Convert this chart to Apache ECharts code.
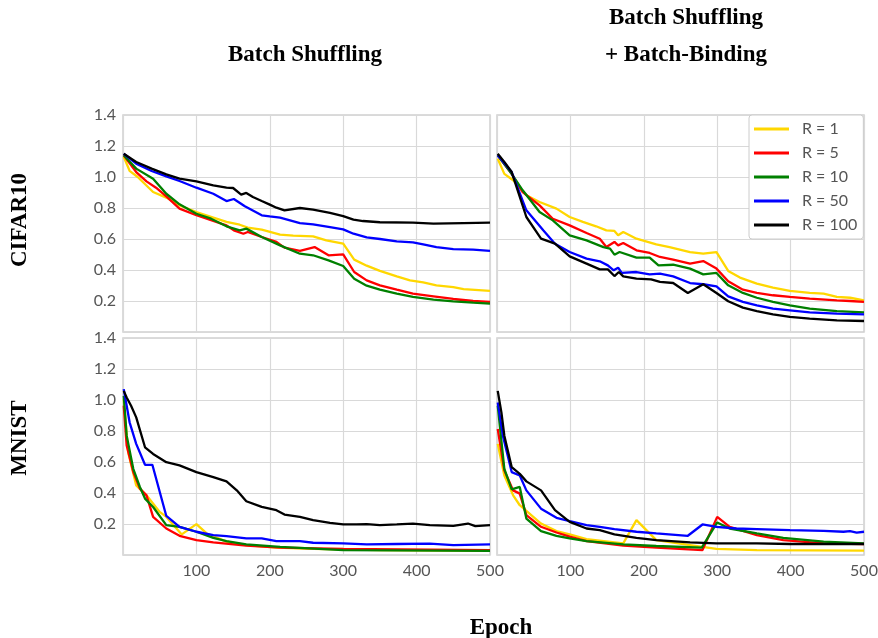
<!DOCTYPE html>
<html>
<head>
<meta charset="utf-8">
<script src="https://cdn.jsdelivr.net/npm/echarts@6/dist/echarts.min.js"></script>
<style>html,body{margin:0;padding:0;background:#fff}#c{width:878px;height:638px}</style>
</head>
<body>
<div id="c"></div>
<script>
// ---------- data ----------
const seriesNames = ['R = 1', 'R = 5', 'R = 10', 'R = 50', 'R = 100'];
const seriesColors = ['#FFD700', '#FF0000', '#008000', '#0000FF', '#000000'];
const colTitles = ['Batch Shuffling', 'Batch Shuffling\n+ Batch-Binding'];
const rowTitles = ['CIFAR10', 'MNIST'];
const xTicks = [100, 200, 300, 400, 500];
const yTicks = [0.2, 0.4, 0.6, 0.8, 1.0, 1.2, 1.4];

// CIFAR10, Batch Shuffling
const cifarBS_R1 = [[1,1.13],[9,1.04],[20,1.0],[41,0.903],[59,0.867],[77,0.817],[100,0.774],[123,0.738],[141,0.71],[159,0.692],[170,0.673],[189,0.66],[214,0.628],[232,0.622],[259,0.617],[277,0.591],[300,0.57],[315,0.467],[332,0.428],[350,0.394],[373,0.359],[391,0.333],[409,0.32],[427,0.301],[450,0.29],[464,0.277],[500,0.265]];
const cifarBS_R5 = [[1,1.14],[18,1.032],[32,0.972],[45,0.931],[59,0.875],[77,0.796],[100,0.753],[123,0.716],[141,0.688],[151,0.656],[164,0.634],[170,0.645],[189,0.613],[209,0.581],[220,0.544],[241,0.523],[261,0.548],[280,0.495],[300,0.501],[315,0.387],[332,0.333],[350,0.301],[373,0.273],[395,0.247],[423,0.23],[450,0.213],[477,0.2],[500,0.194]];
const cifarBS_R10 = [[1,1.14],[18,1.054],[41,0.989],[59,0.892],[77,0.824],[100,0.763],[120,0.731],[141,0.682],[159,0.656],[168,0.667],[189,0.613],[214,0.559],[241,0.505],[259,0.495],[280,0.462],[300,0.426],[315,0.344],[332,0.299],[350,0.273],[373,0.247],[395,0.226],[423,0.209],[450,0.198],[477,0.189],[500,0.183]];
const cifarBS_R50 = [[1,1.15],[18,1.086],[39,1.039],[59,1.004],[77,0.974],[100,0.931],[123,0.892],[141,0.845],[151,0.858],[166,0.811],[189,0.753],[200,0.746],[214,0.738],[241,0.703],[259,0.695],[282,0.677],[300,0.662],[314,0.634],[332,0.611],[350,0.6],[373,0.585],[395,0.578],[409,0.566],[427,0.548],[450,0.535],[477,0.531],[500,0.523]];
const cifarBS_R100 = [[1,1.15],[18,1.097],[39,1.054],[59,1.017],[77,0.989],[100,0.972],[123,0.946],[141,0.931],[150,0.929],[161,0.886],[168,0.897],[177,0.871],[189,0.845],[200,0.822],[209,0.802],[220,0.785],[241,0.8],[259,0.789],[282,0.768],[300,0.748],[314,0.725],[327,0.716],[350,0.708],[395,0.705],[423,0.699],[464,0.703],[500,0.705]];

// CIFAR10, Batch Shuffling + Batch-Binding
const cifarBB_R1 = [[1,1.118],[10,1.02],[22,0.979],[40,0.882],[58,0.839],[81,0.796],[99,0.742],[117,0.71],[135,0.682],[149,0.656],[160,0.652],[165,0.624],[172,0.645],[190,0.602],[217,0.566],[235,0.548],[263,0.516],[281,0.505],[299,0.516],[315,0.394],[331,0.351],[354,0.312],[376,0.286],[399,0.265],[426,0.252],[445,0.247],[463,0.226],[481,0.221],[500,0.204]];
const cifarBB_R5 = [[1,1.14],[20,1.02],[35,0.903],[58,0.817],[76,0.731],[99,0.688],[122,0.639],[140,0.602],[149,0.548],[160,0.581],[165,0.559],[172,0.574],[190,0.527],[208,0.51],[222,0.484],[240,0.467],[263,0.441],[281,0.458],[299,0.409],[315,0.327],[335,0.273],[354,0.252],[376,0.237],[399,0.226],[426,0.215],[463,0.204],[481,0.2],[500,0.194]];
const cifarBB_R10 = [[1,1.14],[20,1.02],[35,0.914],[58,0.774],[76,0.72],[99,0.624],[122,0.591],[145,0.548],[154,0.538],[160,0.499],[167,0.516],[190,0.48],[208,0.48],[220,0.43],[240,0.434],[263,0.409],[281,0.372],[299,0.381],[315,0.301],[335,0.252],[354,0.221],[376,0.194],[399,0.172],[426,0.151],[463,0.135],[500,0.127]];
const cifarBB_R50 = [[1,1.14],[20,1.032],[40,0.785],[63,0.656],[79,0.57],[99,0.516],[122,0.473],[140,0.456],[151,0.43],[159,0.398],[165,0.415],[170,0.381],[190,0.387],[208,0.372],[222,0.376],[240,0.359],[263,0.316],[281,0.308],[299,0.295],[315,0.23],[335,0.194],[354,0.172],[376,0.151],[399,0.14],[426,0.127],[463,0.118],[500,0.114]];
const cifarBB_R100 = [[1,1.15],[10,1.097],[20,1.032],[40,0.742],[60,0.602],[79,0.57],[99,0.488],[122,0.441],[140,0.404],[151,0.404],[160,0.361],[166,0.387],[172,0.359],[190,0.344],[210,0.34],[222,0.323],[240,0.316],[260,0.252],[281,0.308],[299,0.252],[315,0.198],[335,0.157],[354,0.135],[376,0.114],[399,0.097],[426,0.086],[463,0.075],[500,0.071]];

// MNIST, Batch Shuffling
const mnistBS_R1 = [[1,1.005],[7,0.663],[18,0.449],[32,0.385],[50,0.278],[59,0.246],[80,0.133],[100,0.199],[114,0.139],[141,0.086],[168,0.064],[209,0.047],[259,0.039],[350,0.032],[500,0.026]];
const mnistBS_R5 = [[1,0.963],[5,0.706],[14,0.535],[23,0.428],[32,0.385],[41,0.246],[59,0.171],[77,0.124],[100,0.096],[123,0.081],[168,0.06],[214,0.047],[300,0.039],[500,0.032]];
const mnistBS_R10 = [[1,1.027],[5,0.77],[14,0.556],[23,0.439],[30,0.364],[41,0.31],[59,0.193],[77,0.182],[100,0.15],[123,0.111],[141,0.09],[168,0.068],[214,0.053],[300,0.032],[500,0.026]];
const mnistBS_R50 = [[1,1.07],[9,0.856],[18,0.717],[30,0.582],[40,0.582],[59,0.252],[77,0.182],[100,0.15],[123,0.128],[141,0.122],[168,0.107],[189,0.107],[209,0.09],[241,0.09],[259,0.079],[300,0.075],[332,0.068],[373,0.071],[418,0.073],[450,0.064],[500,0.068]];
const mnistBS_R100 = [[1,1.059],[5,1.016],[11,0.963],[18,0.888],[30,0.695],[41,0.652],[59,0.599],[77,0.578],[100,0.535],[123,0.503],[141,0.475],[155,0.417],[168,0.347],[189,0.31],[209,0.289],[220,0.261],[241,0.246],[259,0.225],[282,0.207],[300,0.197],[318,0.197],[332,0.199],[350,0.193],[373,0.197],[395,0.203],[418,0.193],[450,0.188],[470,0.203],[480,0.186],[500,0.193]];

// MNIST, Batch Shuffling + Batch-Binding
const mnistBB_R1 = [[1,0.717],[10,0.513],[22,0.385],[31,0.321],[60,0.203],[81,0.154],[99,0.133],[122,0.103],[172,0.075],[190,0.225],[217,0.096],[263,0.064],[299,0.039],[354,0.032],[500,0.028]];
const mnistBB_R5 = [[1,0.813],[10,0.545],[22,0.417],[31,0.396],[40,0.257],[60,0.182],[81,0.145],[99,0.118],[122,0.09],[172,0.06],[217,0.047],[280,0.032],[300,0.246],[317,0.182],[354,0.128],[390,0.096],[445,0.075],[500,0.071]];
const mnistBB_R10 = [[1,0.963],[10,0.556],[20,0.424],[31,0.439],[40,0.235],[60,0.154],[81,0.124],[99,0.107],[122,0.09],[172,0.068],[217,0.058],[279,0.047],[300,0.21],[317,0.171],[354,0.139],[390,0.111],[445,0.086],[500,0.075]];
const mnistBB_R50 = [[1,0.984],[8,0.77],[20,0.535],[31,0.513],[40,0.417],[60,0.299],[81,0.24],[99,0.218],[122,0.193],[140,0.182],[160,0.167],[190,0.15],[217,0.139],[260,0.124],[280,0.197],[299,0.182],[326,0.171],[354,0.167],[399,0.16],[445,0.156],[472,0.15],[481,0.154],[490,0.145],[500,0.15]];
const mnistBB_R100 = [[1,1.059],[6,0.92],[10,0.77],[20,0.567],[31,0.524],[40,0.475],[60,0.417],[79,0.289],[99,0.214],[122,0.171],[140,0.16],[160,0.133],[190,0.111],[217,0.096],[263,0.081],[299,0.075],[354,0.075],[399,0.071],[445,0.071],[500,0.071]];

const panels = [
  [cifarBS_R1, cifarBS_R5, cifarBS_R10, cifarBS_R50, cifarBS_R100],
  [cifarBB_R1, cifarBB_R5, cifarBB_R10, cifarBB_R50, cifarBB_R100],
  [mnistBS_R1, mnistBS_R5, mnistBS_R10, mnistBS_R50, mnistBS_R100],
  [mnistBB_R1, mnistBB_R5, mnistBB_R10, mnistBB_R50, mnistBB_R100]
];

// ---------- layout ----------
const gridBoxes = [
  {left: 123, top: 115, width: 367, height: 217},
  {left: 497, top: 115, width: 367, height: 217},
  {left: 123, top: 338, width: 367, height: 217},
  {left: 497, top: 338, width: 367, height: 217}
];
const labelFont = 'Lato, "Open Sans", sans-serif';
const serif = '"Liberation Serif", "DejaVu Serif", serif';

const grid = [], xAxis = [], yAxis = [], series = [];
gridBoxes.forEach((b, i) => {
  grid.push(Object.assign({show: true, borderColor: '#cfcfcf', borderWidth: 1.5, backgroundColor: '#fff',
    containLabel: false, outerBoundsMode: 'none'}, b));
  const bottomRow = i >= 2, leftCol = i % 2 === 0;
  xAxis.push({
    type: 'value', gridIndex: i, min: 0, max: 500, interval: 100,
    axisLine: {show: false}, axisTick: {show: false},
    axisLabel: {show: bottomRow, showMinLabel: false, color: '#555', fontFamily: labelFont, fontSize: 16, margin: 8,
      formatter: v => xTicks.includes(v) ? String(v) : ''},
    splitLine: {show: true, lineStyle: {color: '#d9d9d9', width: 1.2}}
  });
  yAxis.push({
    type: 'value', gridIndex: i, min: 0, max: 1.4, interval: 0.2,
    axisLine: {show: false}, axisTick: {show: false},
    axisLabel: {show: leftCol, showMinLabel: false, color: '#555', fontFamily: labelFont, fontSize: 16, margin: 7,
      formatter: v => yTicks.some(t => Math.abs(t - v) < 1e-6) ? v.toFixed(1) : ''},
    splitLine: {show: true, lineStyle: {color: '#d9d9d9', width: 1.2}}
  });
  panels[i].forEach((d, k) => {
    series.push({
      type: 'line', name: seriesNames[k], xAxisIndex: i, yAxisIndex: i, data: d,
      symbol: 'none', smooth: false, animation: false,
      lineStyle: {color: seriesColors[k], width: 2.3}, itemStyle: {color: seriesColors[k]},
      z: 2 + k
    });
  });
});

const option = {
  backgroundColor: '#fff',
  animation: false,
  grid, xAxis, yAxis, series,
  legend: {
    data: seriesNames, orient: 'vertical', left: 749, top: 115,
    icon: 'rect', padding: [6, 6, 6, 5], itemGap: 8, itemWidth: 35, itemHeight: 3,
    backgroundColor: '#fff', borderColor: '#cccccc', borderWidth: 1, borderRadius: 3,
    textStyle: {color: '#555', fontFamily: labelFont, fontSize: 16, lineHeight: 15, padding: [0, 0, 0, 8]}
  },
  graphic: [
    {type: 'text', x: 305, y: 55, style: {text: colTitles[0], font: 'bold 23px ' + serif, fill: '#000', textAlign: 'center', textVerticalAlign: 'middle'}},
    {type: 'text', x: 686, y: 18, style: {text: colTitles[1].split('\n')[0], font: 'bold 23px ' + serif, fill: '#000', textAlign: 'center', textVerticalAlign: 'middle'}},
    {type: 'text', x: 686, y: 55, style: {text: colTitles[1].split('\n')[1], font: 'bold 23px ' + serif, fill: '#000', textAlign: 'center', textVerticalAlign: 'middle'}},
    {type: 'text', x: 20, y: 220, rotation: Math.PI / 2, style: {text: rowTitles[0], font: 'bold 23px ' + serif, fill: '#000', textAlign: 'center', textVerticalAlign: 'middle'}},
    {type: 'text', x: 20, y: 438, rotation: Math.PI / 2, style: {text: rowTitles[1], font: 'bold 23px ' + serif, fill: '#000', textAlign: 'center', textVerticalAlign: 'middle'}},
    {type: 'text', x: 501, y: 628, style: {text: 'Epoch', font: 'bold 23px ' + serif, fill: '#000', textAlign: 'center', textVerticalAlign: 'middle'}}
  ]
};

const chart = echarts.init(document.getElementById('c'), null, {renderer: 'canvas'});
chart.setOption(option);
</script>
</body>
</html>
